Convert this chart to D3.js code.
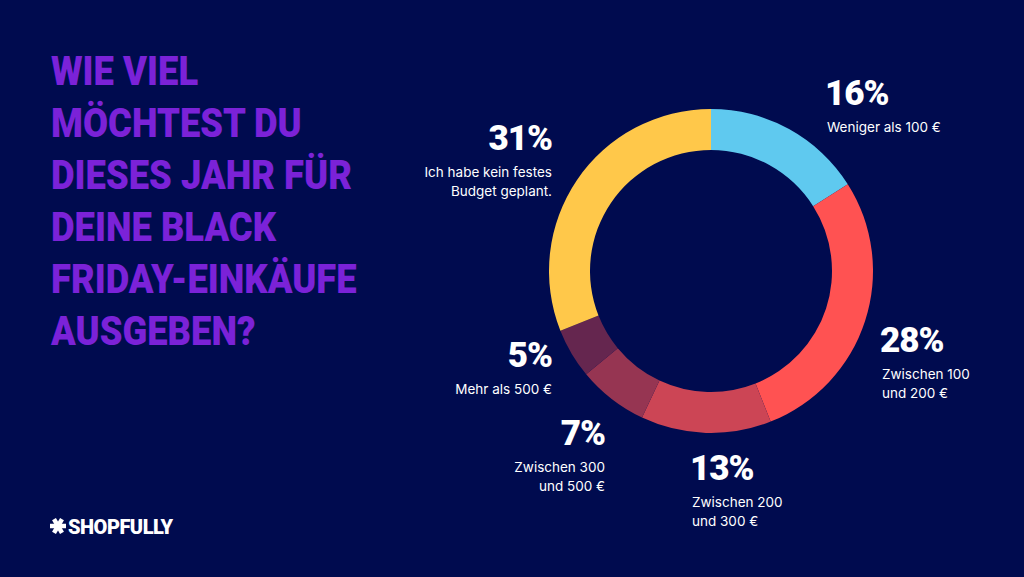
<!DOCTYPE html>
<html><head><meta charset="utf-8">
<script src="https://cdn.jsdelivr.net/npm/d3@7"></script>
<style>body{margin:0;background:#000b4f}</style></head>
<body><svg id="c" width="1024" height="577"></svg>
<script>
var categories = ['Weniger als 100 €', 'Zwischen 100|und 200 €', 'Zwischen 200|und 300 €', 'Zwischen 300|und 500 €', 'Mehr als 500 €', 'Ich habe kein festes|Budget geplant.'];
var values = [16, 28, 13, 7, 5, 31];
var colors = ['#5fc9ef', '#ff5252', '#cc4555', '#963552', '#65264f', '#ffc84a'];
// label anchor (x, y of percent baseline, text-anchor)
var labelPos = [[825, 105, 'start'], [880, 352, 'start'], [690, 480, 'start'], [605, 445, 'end'], [552, 367, 'end'], [552, 150, 'end']];
var titleLines = ['WIE VIEL', 'MÖCHTEST DU', 'DIESES JAHR FÜR', 'DEINE BLACK', 'FRIDAY-EINKÄUFE', 'AUSGEBEN?'];

var svg = d3.select('#c');
svg.append('rect').attr('width', 1024).attr('height', 577).attr('fill', '#000b4f');

svg.selectAll('text.t').data(titleLines).enter().append('text')
    .attr('x', 51).attr('y', function (d, i) { return 85 + i * 52; })
    .attr('fill', '#7b22d8').attr('font-family', 'Roboto, sans-serif')
    .attr('font-weight', 900).attr('font-size', 40)
    .attr('transform', 'translate(' + (51 * 0.09) + ',0) scale(0.91,1)')
    .text(function (d) { return d; });

var pie = d3.pie().sort(null).value(function (d) { return d; });
var arc = d3.arc().innerRadius(121).outerRadius(162);
var g = svg.append('g').attr('transform', 'translate(711,271)');
g.selectAll('path').data(pie(values)).enter().append('path')
    .attr('d', arc).attr('fill', function (d, i) { return colors[i]; });

var lab = svg.selectAll('g.l').data(values).enter().append('g');
lab.append('text')
    .attr('x', function (d, i) { return labelPos[i][0]; })
    .attr('y', function (d, i) { return labelPos[i][1]; })
    .attr('text-anchor', function (d, i) { return labelPos[i][2]; })
    .attr('fill', '#fff').attr('font-family', 'Roboto, sans-serif').attr('font-weight', 900)
    .attr('font-size', 35).attr('letter-spacing', -1)
    .text(function (d) { return d + '%'; });
lab.each(function (d, i) {
    var lines = categories[i].split('|');
    d3.select(this).selectAll('text.s').data(lines).enter().append('text')
        .attr('x', labelPos[i][0] + (labelPos[i][2] === 'start' ? 2 : 0))
        .attr('y', function (l, k) { return labelPos[i][1] + 27 + k * 19; })
        .attr('text-anchor', labelPos[i][2])
        .attr('fill', '#fff').attr('font-family', 'Inter, sans-serif').attr('font-size', 13.5)
        .text(function (l) { return l; });
});

// logo: asterisk made of three strokes plus word mark
var star = svg.append('g').attr('transform', 'translate(58,526)');
star.selectAll('line').data([0, 60, 120]).enter().append('line')
    .attr('x1', 0).attr('y1', -8).attr('x2', 0).attr('y2', 8)
    .attr('stroke', '#fff').attr('stroke-width', 4.5)
    .attr('transform', function (d) { return 'rotate(' + (d + 30) + ')'; });
svg.append('text').attr('x', 68).attr('y', 534).attr('fill', '#fff')
    .attr('font-family', 'Roboto, sans-serif').attr('font-weight', 900).attr('font-size', 20)
    .attr('letter-spacing', -0.5).text('SHOPFULLY');
</script></body></html>
